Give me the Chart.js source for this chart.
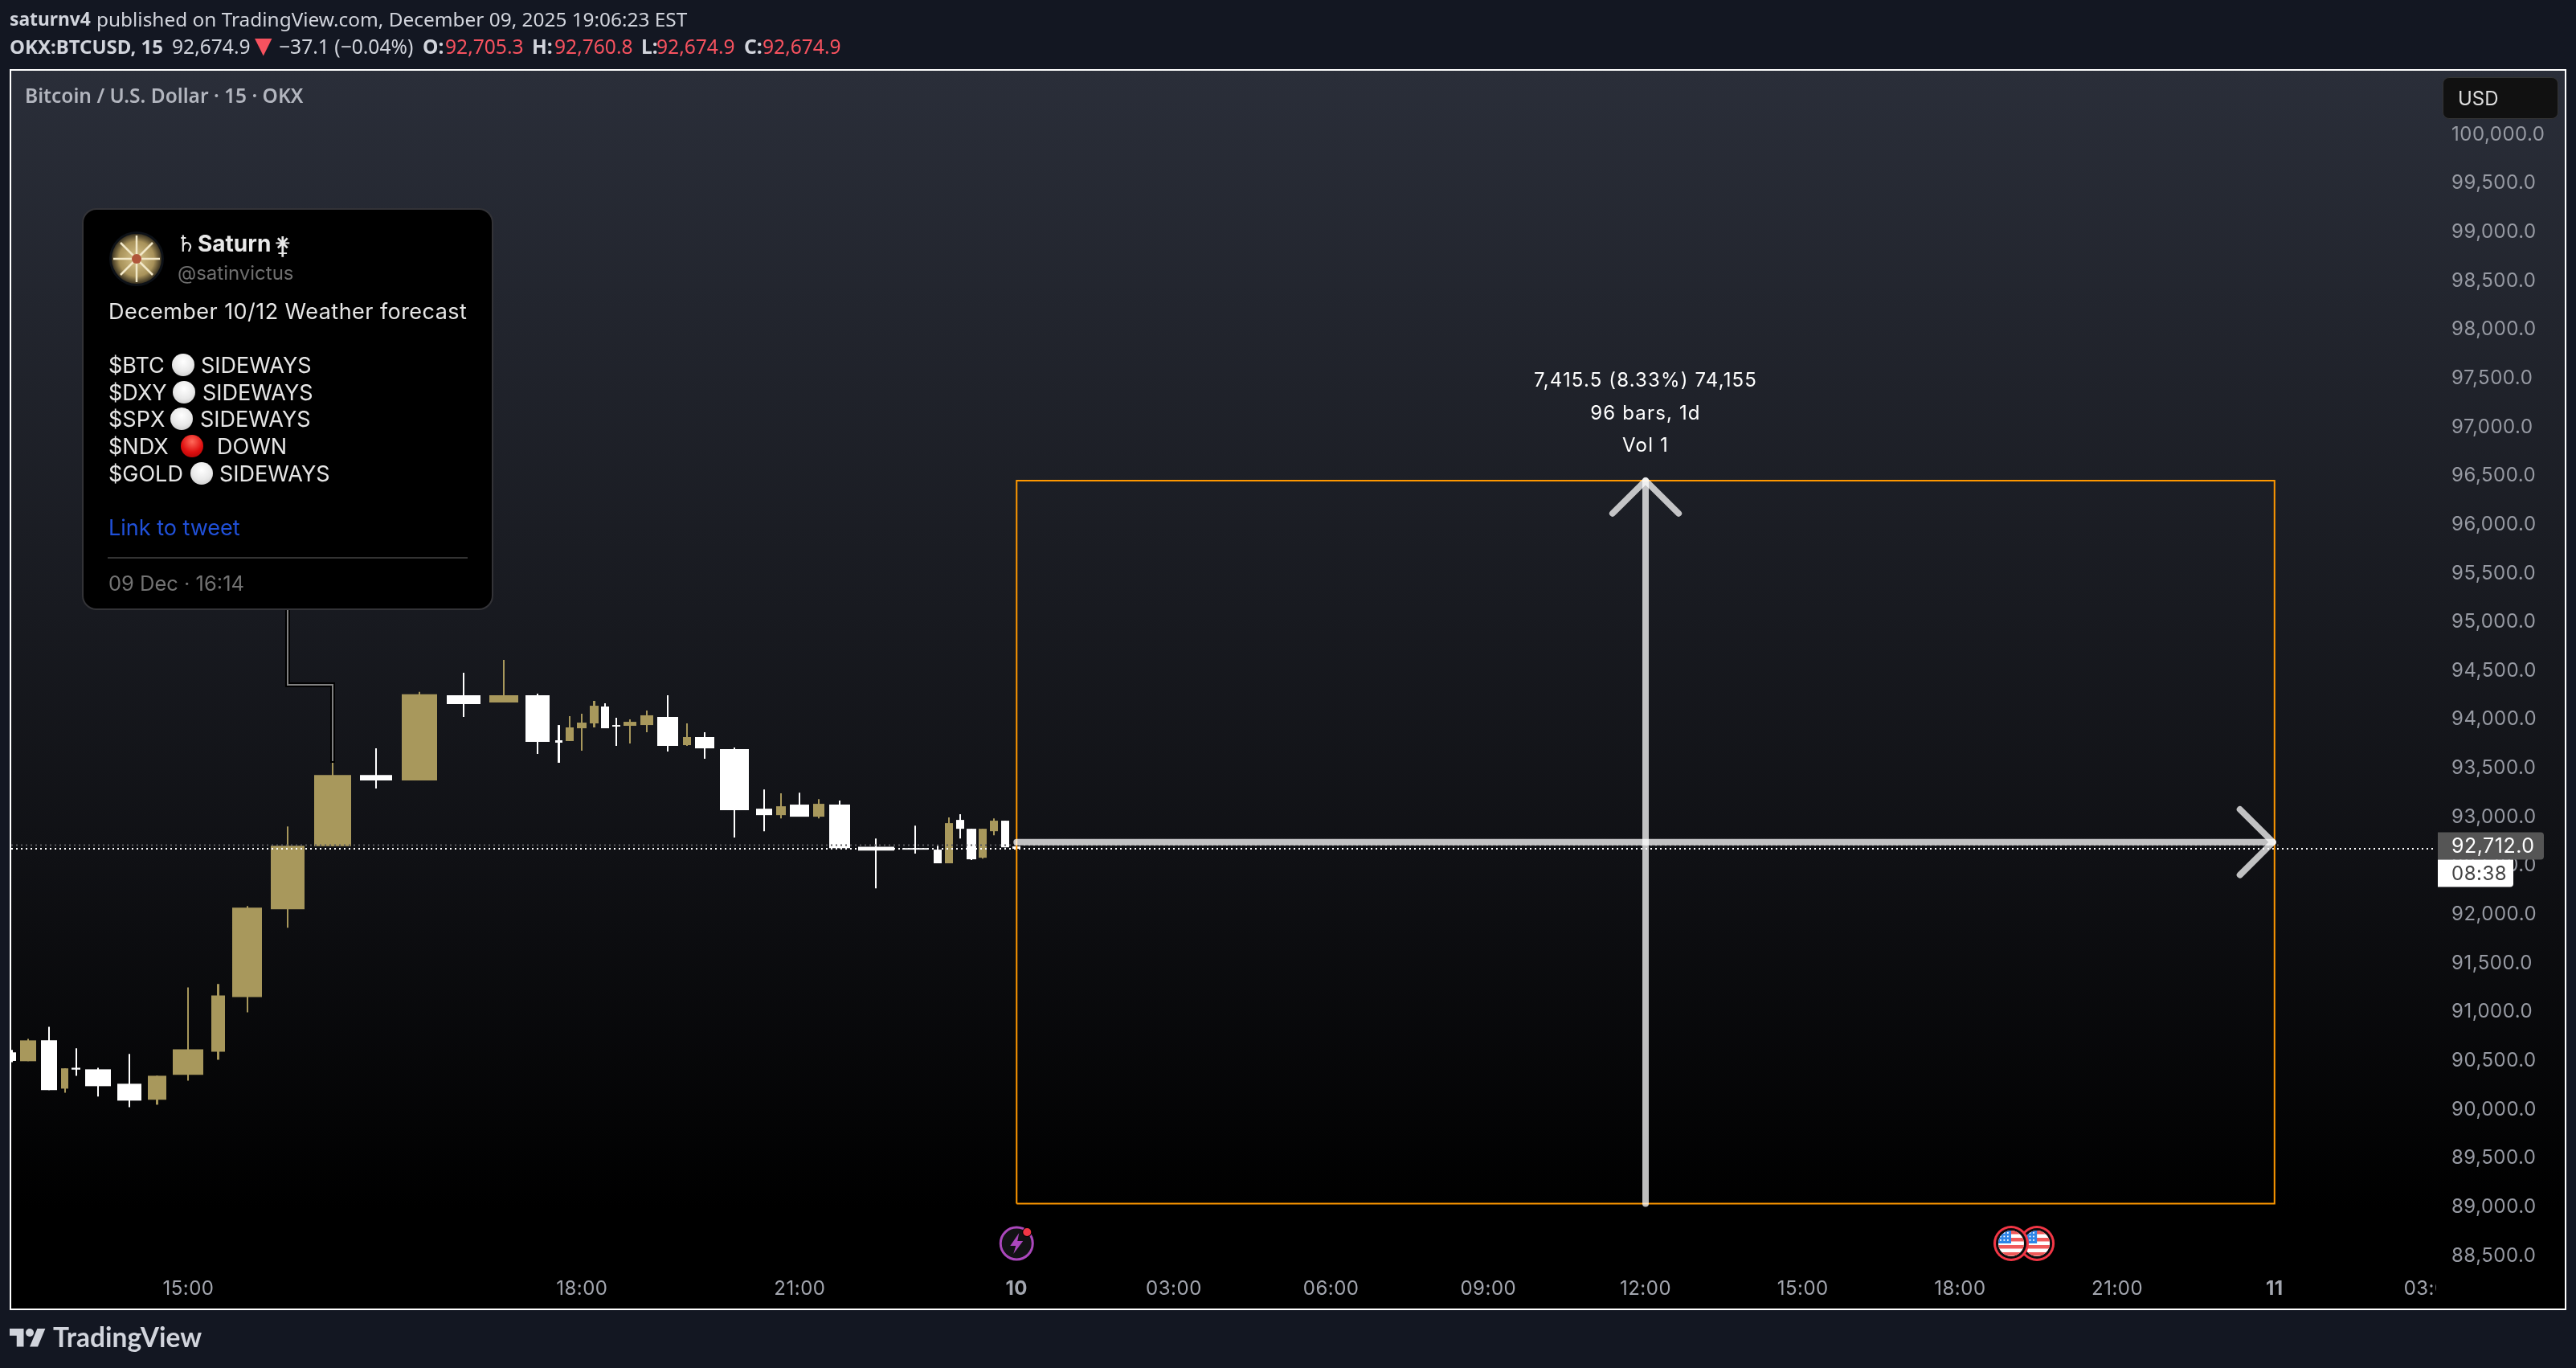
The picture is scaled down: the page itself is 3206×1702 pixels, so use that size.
<!DOCTYPE html>
<html>
<head>
<meta charset="utf-8">
<script src="https://cdn.jsdelivr.net/npm/chart.js@4/dist/chart.umd.min.js"></script>
<style>
html,body{margin:0;padding:0;background:#131722;width:3206px;height:1702px;overflow:hidden;font-family:Inter,sans-serif}
#panel{position:absolute;left:12px;top:86px;width:3178px;height:1540px;border:2px solid #fff;background:linear-gradient(180deg,#2a2e39 0%,#101115 63%,#000 92%)}
#c{position:absolute;left:0;top:0}
.t{position:absolute;white-space:pre;transform:translateY(-50%);line-height:1.2}
.hd{font-family:"Noto Sans",sans-serif;font-size:24.6px;color:#d1d4dc}
.tw{font-family:Inter,sans-serif;font-size:27px;color:#e6e6e6}
.dot{position:absolute;width:28px;height:28px;border-radius:50%;transform:translate(-50%,-50%);background:radial-gradient(circle at 50% 35%,#fff 0%,#e8e8e8 55%,#bdbdbd 100%)}
.dot.r{background:radial-gradient(circle at 50% 30%,#ff6a5a 0%,#e01010 55%,#a00000 100%)}
#card{position:absolute;left:102px;top:259px;width:508px;height:496px;background:#000;border:2px solid #333337;border-radius:18px}
#rule{position:absolute;left:134px;top:693px;width:448px;height:2px;background:#333}
#usd{position:absolute;left:3040px;top:96px;width:142px;height:50px;background:#111;border:1px solid #333;border-radius:8px}
svg{position:absolute;left:0;top:0}
</style>
</head>
<body>
<div id="panel"></div>
<canvas id="c" width="3206" height="1702"></canvas>
<svg width="3206" height="1702" viewBox="0 0 3206 1702" id="ov">
  <polyline points="358,758 358,852 414,852 414,949" fill="none" stroke="#000" stroke-width="6"/>
  <polyline points="358,758 358,852 414,852 414,947" fill="none" stroke="#808080" stroke-width="2"/>
</svg>
<div id="card"></div><div id="rule"></div><div id="usd"></div>
<svg width="3206" height="1702" viewBox="0 0 3206 1702">
  <defs><radialGradient id="av" cx="50%" cy="50%" r="50%"><stop offset="0%" stop-color="#d8c48c"/><stop offset="70%" stop-color="#a8925a"/><stop offset="100%" stop-color="#3a3220"/></radialGradient></defs>
  <circle cx="170" cy="322" r="34" fill="#0d1117"/>
  <circle cx="170" cy="322" r="31" fill="url(#av)"/>
  <g stroke="#f2e8c8" stroke-width="2.5">
    <line x1="170" y1="293" x2="170" y2="351"/><line x1="141" y1="322" x2="199" y2="322"/>
    <line x1="150" y1="302" x2="190" y2="342"/><line x1="190" y1="302" x2="150" y2="342"/>
  </g>
  <circle cx="170" cy="322" r="6" fill="#b0553a"/>
  <g fill="#d1d4dc" transform="translate(12,1648) scale(1.25)">
    <path d="M14 22H7V11H0V4h14v18zM28 22h-8l7.5-18h8L28 22z"/><circle cx="20" cy="8" r="4"/>
  </g>
</svg>
<div id="texts"></div>
<script>
// ---------- data (x axis: 15-minute bar slots, 0 = Dec 10 00:00) ----------
const candleSlot   = [-76.66,-75.42,-73.83,-72.65,-71.79,-70.08,-67.69,-65.60,-63.21,-60.94,-58.73,-55.61,-52.18,-48.87,-45.56,-42.18,-39.12,-36.54,-34.94,-34.10,-33.17,-32.24,-31.39,-30.53,-29.49,-28.20,-26.61,-25.14,-23.79,-21.52,-19.25,-17.96,-16.55,-15.08,-13.49,-10.72,-7.73,-6.01,-5.15,-4.29,-3.43,-2.58,-1.72,-0.86,0];
const candleWidth  = [0.65,1.23,1.23,0.60,0.63,1.96,1.83,1.35,2.33,1.10,2.32,2.58,2.82,2.45,2.70,2.58,2.21,1.84,0.60,0.60,0.74,0.63,0.60,0.61,0.98,0.98,1.61,0.60,1.45,2.21,1.23,0.74,1.47,0.86,1.59,2.73,1.96,0.61,0.61,0.61,0.74,0.61,0.61,0.61,0.61];
const candleOpen   = [90587,90496,90710,90215,90429,90413,90265,90101,90357,90593,91155,92055,92702,93432,93375,94249,94175,94250,93788,93780,93911,93961,94134,93944,93936,93944,94027,93738,93821,93697,93086,93020,93128,93004,93128,92696,92682,92666,92526,92971,92880,92583,92855,92963,92699];
const candleClose  = [90499,90710,90199,90423,90410,90240,90092,90347,90619,91171,92071,92706,93432,93375,94259,94158,94250,93771,93763,93920,93969,94142,93911,93928,93977,94044,93730,93821,93705,93070,93020,93111,93004,93136,92682,92657,92666,92526,92938,92880,92567,92880,92963,92690,92675];
const candleHigh   = [90612,90726,90849,90423,90628,90429,90571,90347,91253,91288,92087,92904,93586,93706,94284,94480,94613,94266,93944,94035,94060,94192,94167,94019,94002,94093,94250,93961,93870,93713,93284,93243,93251,93185,93169,92781,92913,92715,92996,93029,92880,92880,92987,92963,92760];
const candleLow    = [90486,90496,90199,90174,90347,90133,90025,90050,90297,90511,90998,91866,92702,93293,93375,94028,94175,93647,93557,93780,93680,93920,93911,93730,93755,93870,93672,93730,93598,92790,92855,92987,93004,92987,92682,92270,92625,92526,92526,92781,92559,92575,92814,92690,92657];

const priceTicks   = [88500,89000,89500,90000,90500,91000,91500,92000,92500,93000,93500,94000,94500,95000,95500,96000,96500,97000,97500,98000,98500,99000,99500,100000];
const timeTickSlot = [-63.21,-33.17,-16.55,0,12,24,36,48,60,72,84,96,108];
const timeTickText = ['15:00','18:00','21:00','10','03:00','06:00','09:00','12:00','15:00','18:00','21:00','11','03:00'];

const rangeFromSlot = 0,  rangeToSlot = 96;
const rangeLow = 89035,   rangeHigh = 96450.5;
const lastPrice = 92675,  pulsePrice = 92712;
const pulseEndSlot = 96.3;
const headSlots = 2.52,   headPrice = 336;
const hArrowTipSlot = 95.88;
const eventSlots = [75.9, 77.87];
const lightningSlot = 0;
const measureLines = ['7,415.5 (8.33%) 74,155','96 bars, 1d','Vol 1'];
const pricePill = '92,712.0', countdownPill = '08:38';

const GOLD = '#a8985c', WHITE = '#ffffff';
const XMIN = -76.73, XMAX = 108.34, YMIN = 88396.5, YMAX = 100655;

// ---------- candle controller: per-point width on the linear x scale ----------
const {BarController} = Chart;
class CandleController extends BarController {
  _calculateBarIndexPixels(index) {
    const d = this.getDataset().data[index], xs = this._cachedMeta.iScale;
    const l = Math.round(xs.getPixelForValue(d.x - d.w/2)), r = Math.round(xs.getPixelForValue(d.x + d.w/2));
    return {center:(l+r)/2, size:Math.max(r-l,2)};
  }
}
CandleController.id = 'candle';
CandleController.defaults = BarController.defaults;
CandleController.overrides = BarController.overrides;
Chart.register(CandleController);

const candleColor = candleOpen.map((o,i)=> candleClose[i] >= o ? GOLD : WHITE);
const wickData = candleSlot.map((x,i)=>({x, w:0.125, y:[candleLow[i],candleHigh[i]]}));
const bodyData = candleSlot.map((x,i)=>({x, w:candleWidth[i], y:[candleOpen[i],candleClose[i]]}));

function lineSet(label,pts,color,width,extra){
  return Object.assign({type:'line',label,data:pts.map(p=>({x:p[0],y:p[1]})),borderColor:color,borderWidth:width,pointRadius:0,tension:0,fill:false,order:2},extra||{});
}
const midPrice = (rangeLow+rangeHigh)/2, midSlot=(rangeFromSlot+rangeToSlot)/2;
const ARROW = 'rgba(255,255,255,0.74)';
const arrowOpts = {borderCapStyle:'round',borderJoinStyle:'round',order:1};

const datasets = [
  {type:'candle',label:'wicks',data:wickData,backgroundColor:candleColor,order:6},
  {type:'candle',label:'bodies',data:bodyData,backgroundColor:candleColor,order:5},
  lineSet('pulse line',[[XMIN,pulsePrice],[pulseEndSlot,pulsePrice]],'#5a5a5e',2,{borderDash:[2,4],order:4}),
  lineSet('last price',[[XMIN,lastPrice],[XMAX-0.2,lastPrice]],'#ffffff',2,{borderDash:[2,4],order:3}),
  lineSet('range box',[[rangeFromSlot,rangeLow],[rangeFromSlot,rangeHigh],[rangeToSlot,rangeHigh],[rangeToSlot,rangeLow],[rangeFromSlot,rangeLow]],'#ff9800',2,{borderJoinStyle:'miter'}),
  lineSet('v shaft',[[midSlot,rangeLow],[midSlot,rangeHigh]],ARROW,8,arrowOpts),
  lineSet('v head',[[midSlot-headSlots,rangeHigh-headPrice],[midSlot,rangeHigh],[midSlot+headSlots,rangeHigh-headPrice]],ARROW,8,arrowOpts),
  lineSet('h shaft',[[rangeFromSlot,midPrice],[hArrowTipSlot,midPrice]],ARROW,8,arrowOpts),
  lineSet('h head',[[hArrowTipSlot-headSlots,midPrice+headPrice],[hArrowTipSlot,midPrice],[hArrowTipSlot-headSlots,midPrice-headPrice]],ARROW,8,arrowOpts),
];

function flag(ctx,x,y){
  ctx.save();
  ctx.beginPath();ctx.arc(x,y,22,0,7);ctx.fillStyle='#f23645';ctx.fill();
  ctx.beginPath();ctx.arc(x,y,19,0,7);ctx.fillStyle='#0b0b0d';ctx.fill();
  ctx.beginPath();ctx.arc(x,y,16,0,7);ctx.clip();
  ctx.fillStyle='#fff';ctx.fillRect(x-17,y-17,34,34);
  ctx.fillStyle='#f05a5a';
  for(let i=0;i<4;i++)ctx.fillRect(x-17,y-16+i*9,34,4.5);
  ctx.fillStyle='#2f86e8';ctx.fillRect(x-17,y-17,17,17);
  ctx.fillStyle='#fff';
  for(let r=0;r<3;r++)for(let c=0;c<3;c++)ctx.fillRect(x-14+c*4.5,y-14+r*4.5,1.8,1.8);
  ctx.restore();
}
function bolt(ctx,x,y){
  ctx.save();
  ctx.beginPath();ctx.arc(x,y,20,0,7);ctx.fillStyle='#121214';ctx.fill();
  ctx.strokeStyle='#ab47bc';ctx.lineWidth=3;ctx.stroke();
  ctx.fillStyle='#ab47bc';ctx.beginPath();
  ctx.moveTo(x+3,y-13);ctx.lineTo(x-8,y+3);ctx.lineTo(x-1,y+3);ctx.lineTo(x-4,y+13);ctx.lineTo(x+8,y-3);ctx.lineTo(x+1,y-3);ctx.closePath();ctx.fill();
  ctx.beginPath();ctx.arc(x+13,y-14,6,0,7);ctx.fillStyle='#000';ctx.fill();
  ctx.beginPath();ctx.arc(x+13,y-14,5,0,7);ctx.fillStyle='#f23645';ctx.fill();
  ctx.restore();
}
function rr(ctx,x,y,w,h,rad,fill){ctx.fillStyle=fill;ctx.beginPath();ctx.roundRect(x,y,w,h,rad);ctx.fill();}

const overlay = {
  id:'overlay',
  beforeDraw(chart){ chart.ctx.letterSpacing='0.5px'; },
  beforeDatasetsDraw(chart){
    // time-axis labels stop where the price scale begins
    const a=chart.chartArea,ctx=chart.ctx;
    ctx.save();ctx.fillStyle='#000';ctx.fillRect(a.right,a.bottom+1,150,52);ctx.restore();
  },
  afterDraw(chart){
    const {ctx,scales:{x,y}}=chart,a=chart.chartArea;
    ctx.save();
    ctx.letterSpacing='1.15px';
    ctx.fillStyle='#ffffff';ctx.font='24px Inter';ctx.textAlign='center';ctx.textBaseline='middle';
    const cx=x.getPixelForValue(midSlot),top=y.getPixelForValue(rangeHigh);
    measureLines.forEach((s,i)=>ctx.fillText(s,cx,top-124+i*40.5));
    ctx.letterSpacing='0.5px';
    const py=y.getPixelForValue(pulsePrice)+1;
    rr(ctx,a.right+2,py-17,132,34,[0,4,4,0],'#555555');
    ctx.fillStyle='#fff';ctx.textAlign='left';ctx.font='25px Inter';ctx.fillText(pricePill,3051,py+1);
    rr(ctx,a.right+2,py+17,94,34,[0,0,4,0],'#ffffff');
    ctx.fillStyle='#444';ctx.font='24px Inter';ctx.fillText(countdownPill,3051,py+35);
    ctx.letterSpacing='0px';
    const my=a.bottom-28;
    bolt(ctx,x.getPixelForValue(lightningSlot),my);
    eventSlots.slice().reverse().forEach(s=>flag(ctx,x.getPixelForValue(s),my));
    ctx.restore();
  }
};

new Chart(document.getElementById('c'),{
  type:'candle',
  data:{datasets},
  plugins:[overlay],
  options:{
    responsive:false,animation:false,devicePixelRatio:1,
    layout:{padding:{left:14,top:88,right:16,bottom:74}},
    plugins:{legend:{display:false},tooltip:{enabled:false}},
    scales:{
      x:{type:'linear',offset:false,min:XMIN,max:XMAX,grid:{display:false},border:{display:false},
        afterBuildTicks(s){s.ticks=timeTickSlot.map(v=>({value:v}));},
        afterFit(s){s.height=53;},
        ticks:{autoSkip:false,maxRotation:0,padding:6,color:'#a3a6af',
          callback(v,i){return timeTickText[i];},
          font(c){const b=c.tick&&(c.tick.label==='10'||c.tick.label==='11');return {family:'Inter',size:24,weight:b?'700':'400'};}}},
      y:{type:'linear',position:'right',min:YMIN,max:YMAX,beginAtZero:false,grid:{display:false},border:{display:false},
        afterBuildTicks(s){s.ticks=priceTicks.map(v=>({value:v}));},
        afterFit(s){s.width=158;},
        ticks:{padding:11,crossAlign:'near',color:'#979aa3',font:{family:'Inter',size:24},
          callback(v){return v.toLocaleString('en-US',{minimumFractionDigits:1,maximumFractionDigits:1});}}}
    }
  }
});

// ---------- page text ----------
const wrap=document.getElementById('texts');
function put(text,x,cy,cls,css){const e=document.createElement('div');e.className='t '+(cls||'');e.textContent=text;e.style.left=x+'px';e.style.top=cy+'px';if(css)e.style.cssText+=';'+css;wrap.appendChild(e);return e;}
function dot(x,cy,red){const e=document.createElement('div');e.className='dot'+(red?' r':'');e.style.left=x+'px';e.style.top=cy+'px';wrap.appendChild(e);}
const RED='#f7525f';
put('saturnv4',12,24,'hd','font-weight:700;font-size:22.8px');
put('published on TradingView.com, December 09, 2025 19:06:23 EST',120,24,'hd','font-size:24.4px');
put('OKX:BTCUSD, 15',12,58,'hd','font-weight:700;font-size:24px');
put('92,674.9',214,58,'hd');
put('▼',317,57,'hd','color:'+RED+';font-size:28px;font-family:"DejaVu Sans"');
put('−37.1 (−0.04%)',347,58,'hd');
[['O:',526,'92,705.3',554],['H:',662,'92,760.8',690],['L:',798,'92,674.9',817],['C:',926,'92,674.9',949]].forEach(r=>{
  put(r[0],r[1],58,'hd','font-weight:700');put(r[2],r[3],58,'hd','color:'+RED);
});
put('Bitcoin / U.S. Dollar · 15 · OKX',31,119,'hd','font-weight:600;color:#b2b5be;font-size:24.5px');
put('USD',3059,122,'','font:24px Inter;color:#ddd');

put('♄',219,303,'','font:700 28px "DejaVu Sans";color:#e8e8e8');
put('Saturn',246,303,'','font:700 28px Inter;color:#e8e8e8');
put('⚵',341,305,'','font:700 30px "DejaVu Sans";color:#e8e8e8');
put('@satinvictus',221,339,'','font:24px Inter;color:#6e6e6e');
put('December 10/12 Weather forecast',135,388,'tw','letter-spacing:.45px');
[['$BTC',228,'SIDEWAYS',250,455,false],['$DXY',229,'SIDEWAYS',252,489,false],['$SPX',226,'SIDEWAYS',249,522,false],['$NDX',239,'DOWN',270,556,true],['$GOLD',251,'SIDEWAYS',273,590,false]].forEach(r=>{
  put(r[0],135,r[4],'tw');dot(r[1],r[4]-1,r[5]);put(r[2],r[3],r[4],'tw');
});
put('Link to tweet',135,657,'tw','color:#2050d8');
put('09 Dec · 16:14',135,725,'','font:25.5px Inter;color:#737373');
put('TradingView',66,1663,'','font:700 33.5px Lato;color:#d1d4dc');
</script>
</body>
</html>
